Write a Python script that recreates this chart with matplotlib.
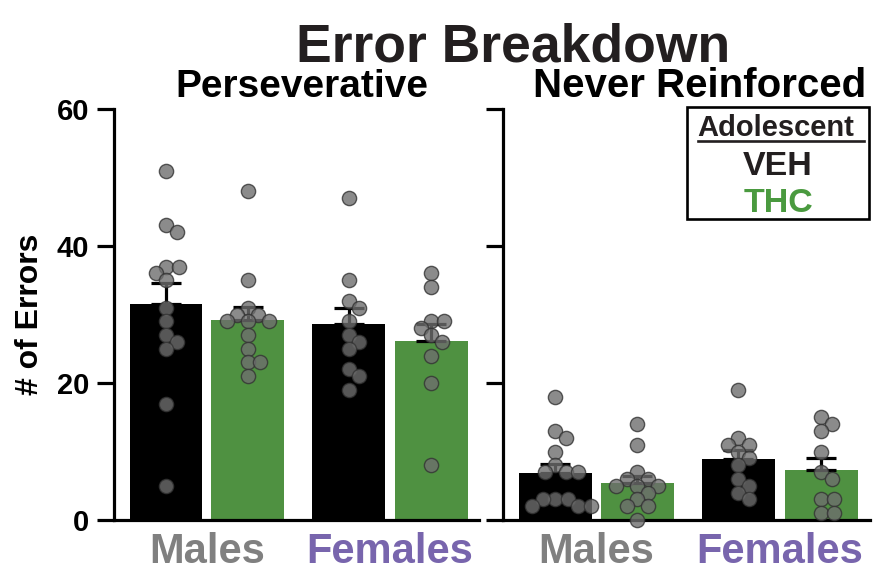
import numpy as np
import matplotlib
matplotlib.use('Agg')
import matplotlib.pyplot as plt
from matplotlib.patches import Rectangle
from matplotlib.lines import Line2D
from matplotlib.transforms import blended_transform_factory

plt.rcParams['font.family'] = ['Liberation Sans', 'DejaVu Sans']
plt.rcParams['font.weight'] = 'bold'

# values (one dot per animal)
panels = ['Perseverative', 'Never Reinforced']
sexes = ['Males', 'Females']
sex_colors = ['#808080', '#7865ad']

pers_male_veh = [51, 43, 42, 37, 37, 36, 35, 31, 29, 27, 26, 25, 17, 5]
pers_male_thc = [48, 35, 31, 30, 30, 29, 29, 29, 27, 25, 23, 23, 21]
pers_female_veh = [47, 35, 32, 31, 29, 27, 26, 25, 22, 21, 19]
pers_female_thc = [36, 34, 29, 29, 28, 27, 26, 24, 20, 8]

nr_male_veh = [18, 13, 12, 10, 8, 7, 7, 7, 3, 3, 3, 2, 2, 2]
nr_male_thc = [14, 11, 7, 6, 6, 5, 5, 5, 4, 3, 2, 2, 0]
nr_female_veh = [19, 12, 11, 11, 10, 9, 8, 6, 5, 4, 3]
nr_female_thc = [15, 14, 13, 10, 7, 6, 3, 3, 1, 1]

panel_data = [
    [pers_male_veh, pers_male_thc, pers_female_veh, pers_female_thc],
    [nr_male_veh, nr_male_thc, nr_female_veh, nr_female_thc],
]
bar_colors = ['black', '#4f9141', 'black', '#4f9141']
positions = np.array([0, 1, 2.23, 3.24])


def swarm(vals, xscale, yscale, d=14.0):
    # simple beeswarm in pixel space, returns x offsets in data units
    placed = []
    offs = []
    cands = [0.0]
    for s in np.arange(0.5, 3 * d, 0.5):
        cands += [s, -s]
    for v in vals:
        y = v * yscale
        for c in cands:
            if all((c - px) ** 2 + (y - py) ** 2 >= (0.88 * d) ** 2 for px, py in placed):
                break
        placed.append((c, y))
        offs.append(c / xscale)
    return np.array(offs)


fig = plt.figure(figsize=(8.77, 5.72), dpi=100)
ax_l = fig.add_axes([114 / 877, 52 / 572, 365 / 877, 411 / 572])
ax_r = fig.add_axes([503 / 877, 52 / 572, 367 / 877, 411 / 572])

for ax, data, xl in zip([ax_l, ax_r], panel_data, [(-0.635, 3.82), (-0.64, 3.835)]):
    ax.set_xlim(*xl)
    ax.set_ylim(0, 60)
    xscale = ax.bbox.width / (xl[1] - xl[0])
    yscale = ax.bbox.height / 60
    for pos, vals, col in zip(positions, data, bar_colors):
        vals = np.array(vals, dtype=float)
        mean = vals.mean()
        sem = vals.std(ddof=1) / np.sqrt(len(vals))
        ax.bar(pos, mean, width=0.89, color=col, zorder=2)
        ax.errorbar(pos, mean, yerr=[[0], [sem]], fmt='none', ecolor='black',
                    elinewidth=2.3, capsize=10.8, capthick=2.3, zorder=3)
        ax.scatter(pos + swarm(vals, xscale, yscale), vals, s=105,
                   facecolor='#6e6e6e', edgecolor='#333333', linewidth=1.0,
                   alpha=0.8, zorder=5, clip_on=False)
    for sp in ['top', 'right']:
        ax.spines[sp].set_visible(False)
    for sp in ['left', 'bottom']:
        ax.spines[sp].set_linewidth(2.3)
    ax.set_yticks([0, 20, 40, 60])
    ax.set_xticks([])
    ax.tick_params(axis='y', direction='out', length=12, width=2.3,
                   labelsize=21, pad=6)
    trans = blended_transform_factory(ax.transData, ax.transAxes)
    for k, (sx, sc) in enumerate(zip(sexes, sex_colors)):
        gx = positions[2 * k:2 * k + 2].mean()
        ax.text(gx, -0.1055, sx, transform=trans, ha='center', va='baseline',
                fontsize=30, fontweight='bold', color=sc)

ax_r.tick_params(axis='y', labelleft=False)
ax_l.set_ylabel('# of Errors', fontsize=23, fontweight='bold', labelpad=8)

fig.text(513 / 877, 1 - 62 / 572, 'Error Breakdown', ha='center', va='baseline',
         fontsize=38.5, fontweight='bold', color='#231f20')
fig.text(302 / 877, 1 - 97 / 572, panels[0], ha='center', va='baseline',
         fontsize=28, fontweight='bold')
fig.text(700 / 877, 1 - 97 / 572, panels[1], ha='center', va='baseline',
         fontsize=29, fontweight='bold')

# legend box
fig.patches.append(Rectangle((687 / 877, 1 - 219 / 572), 182 / 877, 112 / 572,
                             fill=False, lw=1.9, edgecolor='black',
                             transform=fig.transFigure))
fig.text(776 / 877, 1 - 136 / 572, 'Adolescent', ha='center', va='baseline',
         fontsize=21, fontweight='bold', color='#231f20')
fig.lines.append(Line2D([698 / 877, 864 / 877], [1 - 141 / 572, 1 - 141 / 572],
                        lw=1.9, color='#231f20', transform=fig.transFigure))
fig.text(778 / 877, 1 - 175 / 572, 'VEH', ha='center', va='baseline',
         fontsize=24.5, fontweight='bold', color='#231f20')
fig.text(778 / 877, 1 - 212 / 572, 'THC', ha='center', va='baseline',
         fontsize=24.5, fontweight='bold', color='#4a9a3f')

plt.savefig('out.png', dpi=100)
